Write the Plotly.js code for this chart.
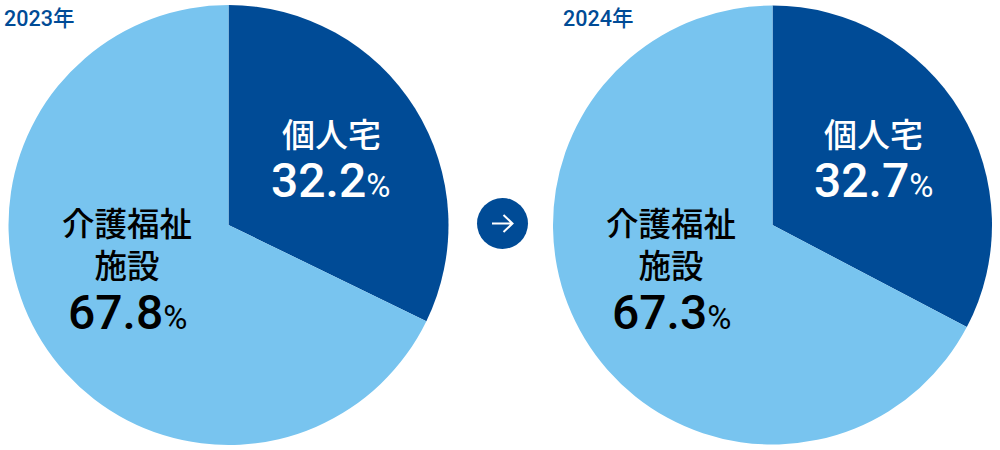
<!DOCTYPE html>
<html><head><meta charset="utf-8">
<script src="https://cdn.plot.ly/plotly-3.0.1.min.js"></script>
<style>html,body{margin:0;padding:0;background:#fff}#c{width:1000px;height:450px}</style>
</head><body><div id="c"></div>
<script>
const categories = ['個人宅', '介護福祉施設'];
const values2023 = [32.2, 67.8];
const values2024 = [32.7, 67.3];
const colors = ['#004B96', '#78C4EF'];
const years = ['2023年', '2024年'];
const W = 1000, H = 450;
const font = '"Noto Sans CJK JP", "Noto Sans", sans-serif';
function pie(vals, x0, x1, y0, y1) {
  return {type:'pie', labels:categories, values:vals, sort:false, direction:'clockwise', rotation:0,
    marker:{colors:colors, line:{width:0}}, textinfo:'none', hoverinfo:'label+percent', showlegend:false,
    domain:{x:[x0/W,x1/W], y:[1-y1/H,1-y0/H]}};
}
function ann(text, x, y, size, color, family) {
  return {text:text, x:x/W, y:1-y/H, xref:'paper', yref:'paper', xanchor:'center', yanchor:'middle', showarrow:false,
    font:{family:family || font, size:size, color:color, weight:500}};
}
function num(v, x, y, color) {
  return ann('<span style="font-size:48px">'+v.toFixed(1)+'</span><span style="font-size:33px;font-weight:400">%</span>',
    x, y, 48, color, 'Roboto, '+font);
}
const wrapped = categories[1].slice(0,4) + '<br>' + categories[1].slice(4);
const annotations = [
  ann(years[0], 39, 18, 21.5, '#004B96', 'Roboto, '+font),
  ann(years[1], 598, 18, 21.5, '#004B96', 'Roboto, '+font),
  ann(categories[0], 331, 133, 33, '#fff'), num(values2023[0], 330, 180, '#fff'),
  ann(categories[0], 873.5, 133, 33, '#fff'), num(values2024[0], 873, 180, '#fff'),
  ann(wrapped, 127, 242, 32.5, '#000'), num(values2023[1], 127, 312, '#000'),
  ann(wrapped, 671, 242, 32.5, '#000'), num(values2024[1], 671, 312, '#000'),
];
const shapes = [
  {type:'circle', xref:'paper', yref:'paper', x0:477/W, x1:528/W, y0:1-249/H, y1:1-198/H, fillcolor:'#004B96', line:{width:0}},
  {type:'path', xref:'paper', yref:'paper', path:`M ${492/W} ${1-223.5/H} L ${512.5/W} ${1-223.5/H} M ${503.5/W} ${1-215/H} L ${512.5/W} ${1-223.5/H} L ${503.5/W} ${1-232/H}`, line:{color:'#fff', width:2}},
];
Plotly.newPlot('c', [pie(values2023, 8.5, 448.5, 5, 445), pie(values2024, 553, 992, 5.5, 444.5)],
  {width:W, height:H, margin:{l:0,r:0,t:0,b:0}, paper_bgcolor:'#fff', annotations, shapes}, {displayModeBar:false});
</script></body></html>
